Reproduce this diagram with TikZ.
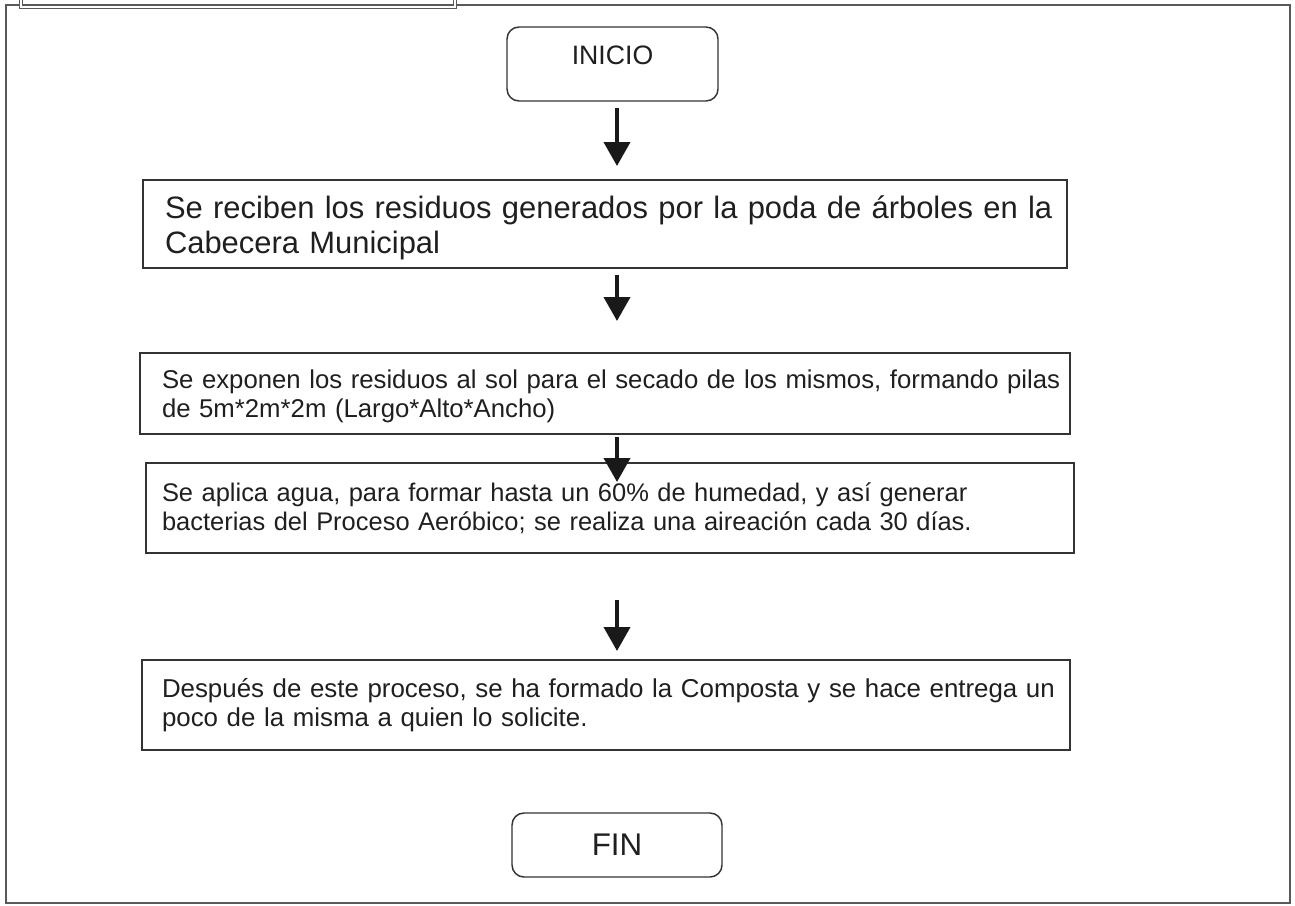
\documentclass[tikz,border=0pt]{standalone}
\usepackage{fontspec}
\setmainfont{Liberation Sans}
\usetikzlibrary{arrows.meta}
\newcommand{\lowerline}[2]{\raisebox{-#1}[\height][\depth]{\mbox{#2}}}
\begin{document}
\begin{tikzpicture}[x=0.75pt,y=-0.75pt,
  frameline/.style={draw=black!65,line width=1.3pt},
  termbox/.style={draw=black!80,line width=1.1pt,rounded corners=9pt,inner sep=0pt,
    font=\fontsize{20}{24}\selectfont,text=black!88},
  procbox/.style={draw=black!80,line width=1.1pt,inner ysep=0pt,
    align=left,text=black!88,font=\fontsize{19.4}{22}\selectfont},
  bigbox/.style={procbox,font=\fontsize{23.2}{26}\selectfont},
  flowarrow/.style={draw=black!90,line width=3pt,-{Triangle[width=19.5pt,length=18pt]}}]
\useasboundingbox (0,0) rectangle (1295,906);
% frame
\draw[frameline] (6,5) rectangle (1290,903);
\draw[frameline,double,double distance=1pt] (21,-6) rectangle (455,7);
% nodes
\node[termbox,minimum width=158.25pt,minimum height=55.5pt] (inicio) at (612.5,64)
  {\raisebox{6.75pt}[\height][\depth]{INICIO}};
\node[bigbox,inner xsep=16.5pt,minimum width=693pt,minimum height=66pt,text width=660pt] (b1) at (605,224)
  {\lowerline{3pt}{Se reciben los residuos generados por la poda de árboles en la}\\\lowerline{3pt}{Cabecera Municipal}};
\node[procbox,inner xsep=16.5pt,minimum width=697.5pt,minimum height=60.75pt,text width=664.5pt,font=\fontsize{19.3}{22}\selectfont] (b2) at (605,393.5)
  {\lowerline{2.25pt}{Se exponen los residuos al sol para el secado de los mismos, formando pilas}\\\lowerline{2.25pt}{de 5m*2m*2m (Largo*Alto*Ancho)}};
\node[procbox,inner xsep=12pt,minimum width=696pt,minimum height=67.5pt,text width=672pt,font=\fontsize{19.1}{22}\selectfont] (b3) at (610,508)
  {\mbox{Se aplica agua, para formar hasta un 60\% de humedad, y así generar}\\\mbox{bacterias del Proceso Aeróbico; se realiza una aireación cada 30 días.}};
\node[procbox,inner xsep=15pt,minimum width=696pt,minimum height=67.5pt,text width=666pt] (b4) at (606,705)
  {\mbox{Después de este proceso, se ha formado la Composta y se hace entrega un}\\\mbox{poco de la misma a quien lo solicite.}};
\node[termbox,minimum width=157.5pt,minimum height=48pt,font=\fontsize{23.5}{27}\selectfont] (fin) at (617,845) {FIN};
% arrow end points
\coordinate (a1s) at (617,108); \coordinate (a1e) at (617,166);
\coordinate (a2s) at (617,275); \coordinate (a2e) at (617,321);
\coordinate (a3s) at (617,437); \coordinate (a3e) at (617,482);
\coordinate (a4s) at (617,600); \coordinate (a4e) at (617,651);
\draw[flowarrow] (a1s) -- (a1e);
\draw[flowarrow] (a2s) -- (a2e);
\draw[flowarrow] (a3s) -- (a3e);
\draw[flowarrow] (a4s) -- (a4e);
\end{tikzpicture}
\end{document}
